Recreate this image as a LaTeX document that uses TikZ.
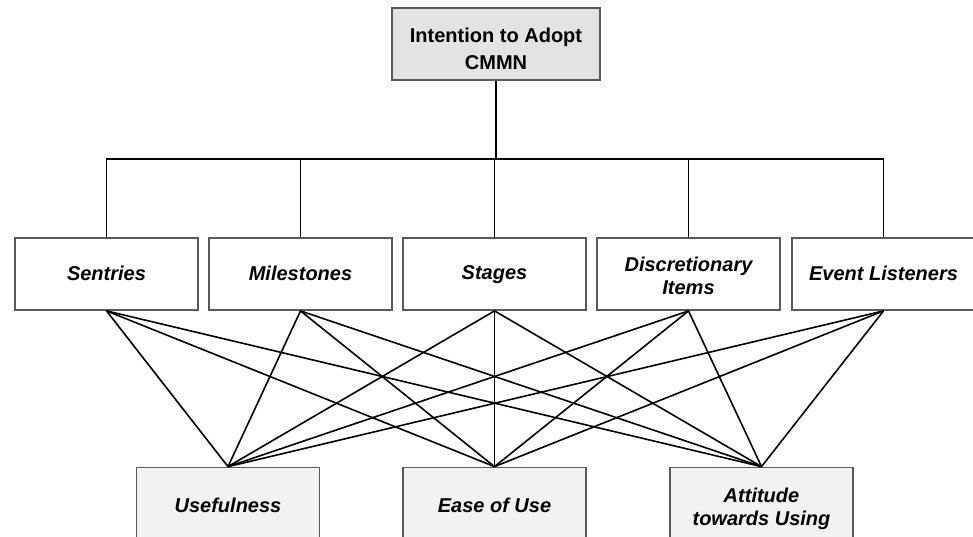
\documentclass[tikz,border=0pt]{standalone}
\usepackage{fontspec}
\setmainfont{Liberation Sans}
\usepackage{tikz}
\newcommand{\midstrut}{\rule[-3pt]{0pt}{19pt}}
\newcommand{\lowstrut}{\rule[-1pt]{0pt}{14.5pt}}
\tikzset{
  box/.style={draw=black!65, line width=1.8pt, minimum width=183pt, minimum height=72pt,
    align=center, inner sep=2pt, font=\fontsize{20}{23}\selectfont\bfseries\itshape},
  goalbox/.style={box, fill=black!11, minimum width=208pt, font=\fontsize{20}{27}\selectfont\bfseries},
  belbox/.style={box, fill=black!5, minimum height=76pt},
  link/.style={draw=black, line width=1.6pt}
}

\begin{document}
\begin{tikzpicture}[x=1pt,y=-1pt]
\useasboundingbox (0,0) rectangle (973,536);
% intention
\node[goalbox] (intent) at (496,44) {\rule{0pt}{24pt}Intention to Adopt\\CMMN};
% CMMN elements
\node[box] (sentries) at (106.5,274) {\midstrut Sentries};
\node[box] (milestones) at (300.5,274) {\midstrut Milestones};
\node[box] (stages) at (494.5,274) {\midstrut Stages};
\node[box] (discr) at (688.5,274) {\rule{0pt}{18.4pt}Discretionary\\Items};
\node[box] (events) at (883.5,274) {\midstrut Event Listeners};
% beliefs
\node[belbox] (useful) at (228,505.5) {\lowstrut Usefulness};
\node[belbox] (ease) at (494.5,505.5) {\lowstrut Ease of Use};
\node[belbox] (attitude) at (761.5,505.5) {\rule{0pt}{21pt}Attitude\\towards Using\rule[-4.5pt]{0pt}{1pt}};
% tree
\coordinate (bus) at (intent.south |- 0,159);
\draw[link] (intent.south) -- (bus);
\foreach \m in {sentries,milestones,stages,discr,events}
  \draw[link] (\m.north) |- (bus);
% crossing links
\foreach \m in {sentries,milestones,stages,discr,events}
  \foreach \b in {useful,ease,attitude}
    \draw[link] (\m.south) -- (\b.north);
\end{tikzpicture}
\end{document}
